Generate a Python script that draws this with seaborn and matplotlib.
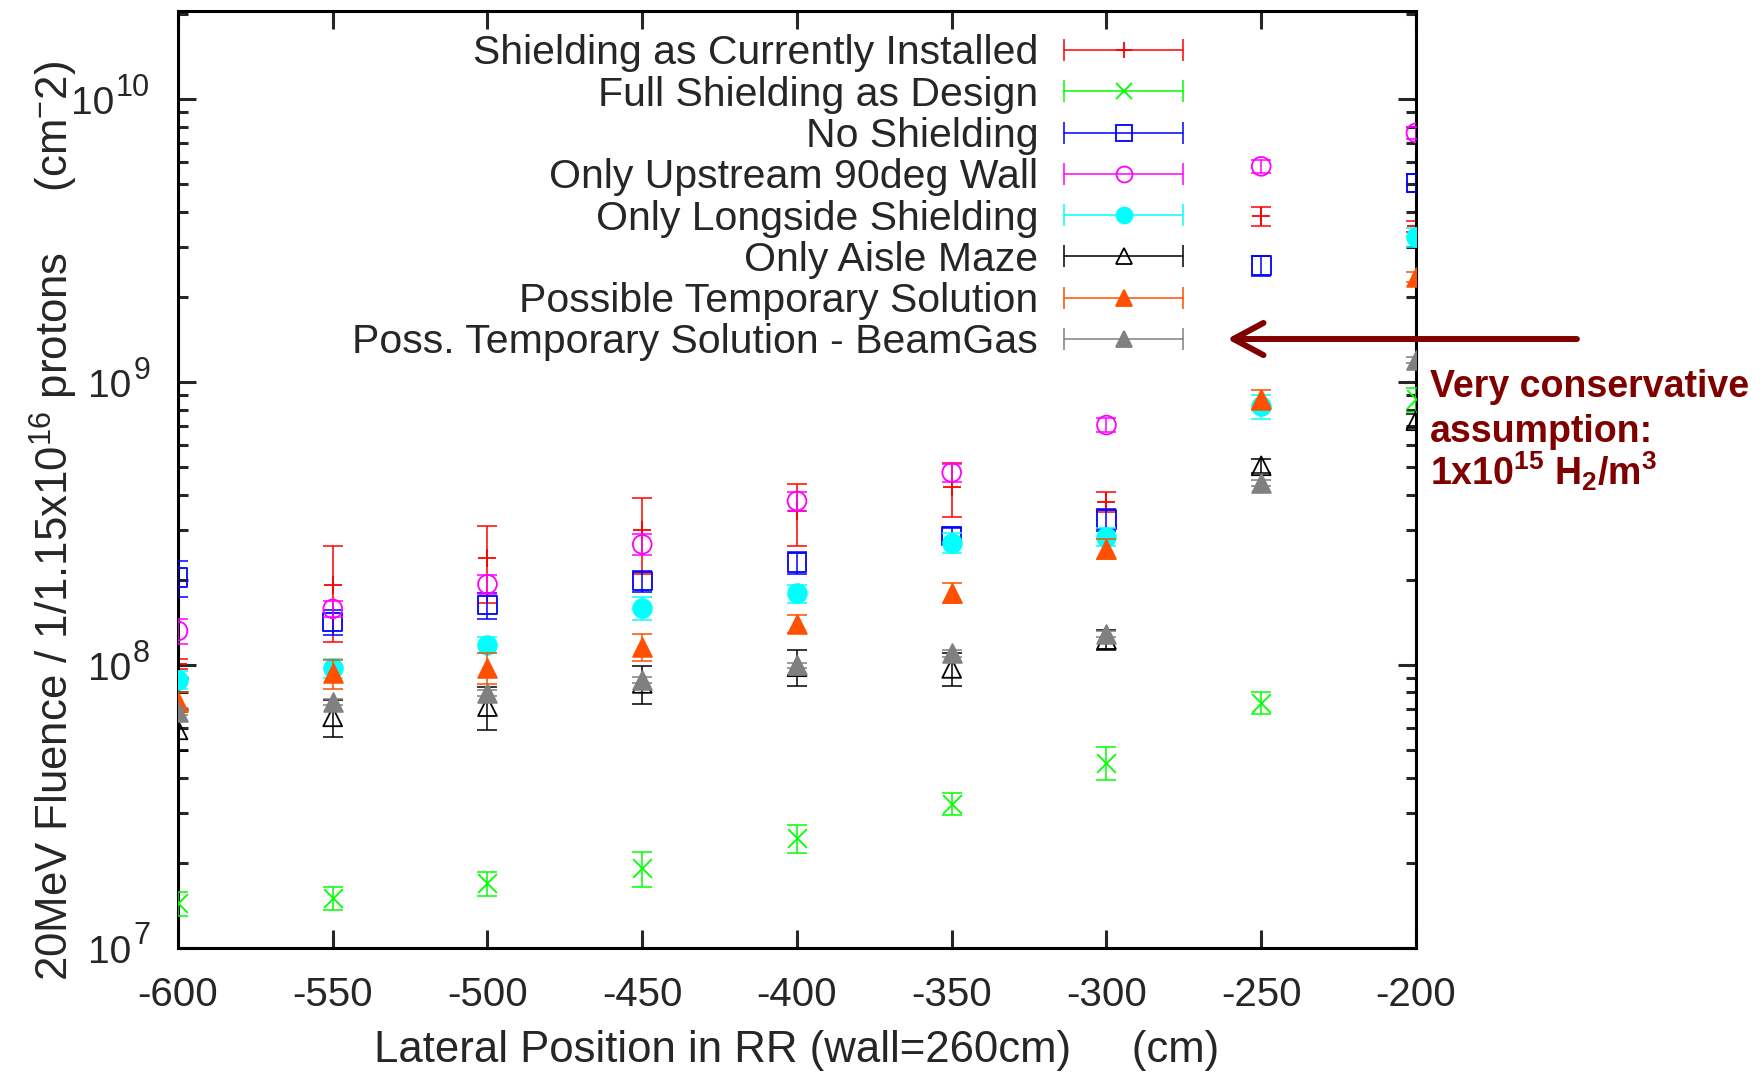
import numpy as np
import pandas as pd
import matplotlib
matplotlib.use("Agg")
import matplotlib.pyplot as plt
import matplotlib.transforms as mtransforms
import seaborn as sns
from matplotlib.lines import Line2D
from matplotlib.legend_handler import HandlerLine2D, HandlerTuple
from matplotlib.ticker import LogLocator, NullFormatter, FixedLocator

# lateral positions (cm)
positions = [-600, -550, -500, -450, -400, -350, -300, -250, -200]
decades = [7, 8, 9, 10]

labels = [
    "Shielding as Currently Installed",
    "Full Shielding as Design",
    "No Shielding",
    "Only Upstream 90deg Wall",
    "Only Longside Shielding",
    "Only Aisle Maze",
    "Possible Temporary Solution",
    "Poss. Temporary Solution - BeamGas",
]

# 20MeV fluence values, with error bars
installed = [1.01e8, 1.92e8, 2.38e8, 3.0e8, 3.51e8, 4.25e8, 3.78e8, 3.85e9, 3.55e9]
installed_err = [0.04e8, 0.71e8, 0.72e8, 0.9e8, 0.87e8, 0.91e8, 0.31e8, 0.3e9, 0.17e9]

full_design = [1.44e7, 1.5e7, 1.69e7, 1.91e7, 2.44e7, 3.24e7, 4.52e7, 7.36e7, 8.7e8]
full_design_err = [0.14e7, 0.14e7, 0.16e7, 0.27e7, 0.28e7, 0.28e7, 0.6e7, 0.67e7, 0.85e8]

no_shield = [2.04e8, 1.42e8, 1.63e8, 1.98e8, 2.30e8, 2.86e8, 3.27e8, 2.59e9, 5.06e9]
no_shield_err = [0.3e8, 0.14e8, 0.17e8, 0.17e8, 0.2e8, 0.2e8, 0.3e8, 0.21e9, 0.38e9]

upstream_wall = [1.32e8, 1.58e8, 1.93e8, 2.67e8, 3.80e8, 4.79e8, 7.05e8, 5.79e9, 7.6e9]
upstream_wall_err = [0.13e8, 0.1e8, 0.15e8, 0.23e8, 0.29e8, 0.36e8, 0.4e8, 0.3e9, 0.35e9]

longside = [8.85e7, 9.73e7, 1.18e8, 1.59e8, 1.79e8, 2.71e8, 2.84e8, 8.2e8, 3.26e9]
longside_err = [0.65e7, 0.75e7, 0.08e8, 0.15e8, 0.13e8, 0.23e8, 0.2e8, 0.8e8, 0.25e9]

aisle_maze = [5.9e7, 6.56e7, 7.13e7, 8.61e7, 9.86e7, 9.73e7, 1.23e8, 5.06e8, 7.3e8]
aisle_maze_err = [0.95e7, 0.98e7, 1.24e7, 1.35e7, 1.4e7, 1.3e7, 0.1e8, 0.3e8, 0.4e8]

temp_solution = [7.4e7, 9.35e7, 9.8e7, 1.16e8, 1.40e8, 1.80e8, 2.58e8, 8.7e8, 2.35e9]
temp_solution_err = [0.6e7, 1.1e7, 1.25e7, 0.13e8, 0.1e8, 0.15e8, 0.21e8, 0.7e8, 0.1e9]

beamgas = [6.84e7, 7.41e7, 7.98e7, 8.85e7, 1.0e8, 1.10e8, 1.29e8, 4.39e8, 1.2e9]
beamgas_err = [0.2e7, 0.2e7, 0.2e7, 0.2e7, 0.2e7, 0.3e7, 0.3e7, 0.1e8, 0.3e8]

colors = ["#ff0000", "#00ff00", "#0000ff", "#ff00ff", "#00ffff", "#000000", "#ff4f00", "#808080"]
markers = ["+", "x", "s", "o", "o", "^", "^", "^"]
filled = [True, True, False, False, True, False, True, True]

values = [installed, full_design, no_shield, upstream_wall, longside, aisle_maze, temp_solution, beamgas]
errors = [installed_err, full_design_err, no_shield_err, upstream_wall_err, longside_err,
          aisle_maze_err, temp_solution_err, beamgas_err]

sns.set_style("ticks")
plt.rcParams["font.family"] = ["Liberation Sans", "DejaVu Sans"]
plt.rcParams["axes.unicode_minus"] = False
plt.rcParams["mathtext.fontset"] = "custom"
plt.rcParams["mathtext.rm"] = "Liberation Sans"
plt.rcParams["mathtext.it"] = "Liberation Sans:italic"
plt.rcParams["mathtext.bf"] = "Liberation Sans:bold"

fig = plt.figure(figsize=(17.64, 10.76), dpi=100)
ax = fig.add_axes([0.1009, 0.1190, 0.7018, 0.8708])

ms = 13.5
handles = []
handler_map = {tuple: HandlerTuple(ndivide=1)}
for i in range(len(labels)):
    c = colors[i]
    ax.errorbar(positions, values[i], yerr=errors[i], fmt="none", ecolor=c,
                elinewidth=1.1, capsize=7, capthick=1.1, zorder=2 + i)
    df = pd.DataFrame({"x": positions, "y": values[i]})
    if markers[i] in ("x", "+"):
        sns.scatterplot(data=df, x="x", y="y", marker=markers[i], s=ms ** 2, color=c,
                        linewidth=1.3, ax=ax, zorder=2.5 + i, legend=False)
    else:
        sns.scatterplot(data=df, x="x", y="y", marker=markers[i], s=ms ** 2, color=c,
                        facecolor=c if filled[i] else "none", edgecolor=c,
                        linewidth=1.3, ax=ax, zorder=2.5 + i, legend=False)
    caps = Line2D([], [], color=c, lw=1.1, marker="|", markersize=16, markeredgewidth=1.1)
    mark = Line2D([], [], linestyle="none", marker=markers[i], color=c, markersize=ms * 0.85,
                  markerfacecolor=c if filled[i] else "none", markeredgecolor=c, markeredgewidth=1.3)
    handler_map[caps] = HandlerLine2D(numpoints=2, marker_pad=0)
    handles.append((caps, mark))

ax.set_yscale("log")
ax.set_xlim(-600, -200)
ax.set_ylim(1e7, 2.05e10)
ax.xaxis.set_major_locator(FixedLocator(positions))
ax.yaxis.set_major_locator(FixedLocator([10.0 ** d for d in decades]))
ax.yaxis.set_major_formatter(NullFormatter())
ax.yaxis.set_minor_locator(LogLocator(base=10, subs=np.arange(2, 10), numticks=40))
ax.yaxis.set_minor_formatter(NullFormatter())

for s in ax.spines.values():
    s.set_linewidth(2.2)
    s.set_color("black")
ax.tick_params(axis="x", which="major", direction="in", top=True, bottom=True,
               length=13, width=2.2, labelsize=29, pad=20)
ax.tick_params(axis="y", which="major", direction="in", left=True, right=True,
               length=13, width=2.2)
ax.tick_params(axis="y", which="minor", direction="in", left=True, right=True,
               length=7, width=2.2)

# gnuplot-style "10^n" labels with a large exponent
ytrans = mtransforms.blended_transform_factory(ax.transAxes, ax.transData)
exp_trans = mtransforms.offset_copy(ytrans, fig=fig, x=0, y=2.5, units="points")
for d in decades:
    exp_txt = ax.text(-0.0226, 10.0 ** d, str(d), transform=exp_trans, fontsize=22,
                      ha="right", va="baseline")
    ax.annotate("10", xy=(0, 0), xycoords=exp_txt, xytext=(-1, -8.4),
                textcoords="offset points", fontsize=28, ha="right", va="baseline")

ax.set_xlabel("Lateral Position in RR (wall=260cm)     (cm)", fontsize=31.5)
ax.xaxis.set_label_coords(0.5, -0.088)
ax.xaxis.label.set_va("top")
ax.set_ylabel(r"20MeV Fluence / 1/1.15x10$^{16}$ protons     (cm$^{-}$2)", fontsize=31.5)
ax.yaxis.set_label_coords(-0.0793, 0.456)

leg = ax.legend(handles=handles, labels=labels, handler_map=handler_map,
                loc="upper right", bbox_to_anchor=(0.812, 0.975), frameon=False,
                markerfirst=False, fontsize=29.5, handlelength=2.9, handletextpad=0.64,
                labelspacing=0.08, borderaxespad=0, borderpad=0)

# annotation arrow and note
ax.annotate("", xy=(-261, 1.42e9), xytext=(-148, 1.42e9), xycoords="data",
            textcoords="data", annotation_clip=False,
            arrowprops=dict(arrowstyle="->, head_length=1.08, head_width=0.58",
                            lw=4.3, color="#800000", mutation_scale=20,
                            shrinkA=0, shrinkB=0))
note_color = "#800000"
fig.text(0.8107, 0.631, "Very conservative", color=note_color, fontsize=27,
         fontweight="bold", va="baseline", ha="left")
fig.text(0.8107, 0.5895, "assumption:", color=note_color, fontsize=27,
         fontweight="bold", va="baseline", ha="left")
fig.text(0.8107, 0.5493, r"1x10$^{\mathbf{15}}$ H$_{\mathbf{2}}$/m$^{\mathbf{3}}$",
         color=note_color, fontsize=27, fontweight="bold", va="baseline", ha="left")

fig.savefig("out.png", dpi=100)
